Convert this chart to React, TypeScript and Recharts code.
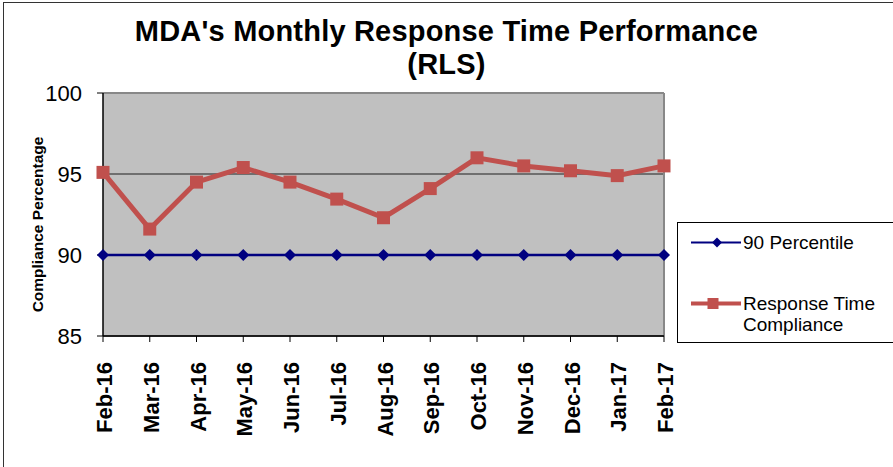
import { CartesianGrid, Legend, Line, LineChart, ReferenceLine, XAxis, YAxis } from "recharts";

const months = ["Feb-16", "Mar-16", "Apr-16", "May-16", "Jun-16", "Jul-16", "Aug-16", "Sep-16", "Oct-16", "Nov-16", "Dec-16", "Jan-17", "Feb-17"];
const percentile90 = [90, 90, 90, 90, 90, 90, 90, 90, 90, 90, 90, 90, 90];
const compliance = [95.1, 91.6, 94.5, 95.4, 94.5, 93.45, 92.3, 94.1, 96.0, 95.5, 95.2, 94.9, 95.5];
const yTicks = [85, 90, 95, 100];

const FONT = "'Liberation Sans', Arial, sans-serif";
const NAVY = "#000080";
const RED = "#C0504D";

const chartData = months.map((m, i) => ({ month: m, p90: percentile90[i], rtc: compliance[i] }));

function Diamond({ cx, cy, fill, size = 6 }: { cx?: number; cy?: number; fill: string; size?: number }) {
  if (cx == null || cy == null) return null;
  return <polygon points={`${cx},${cy - size} ${cx + size},${cy} ${cx},${cy + size} ${cx - size},${cy}`} fill={fill} />;
}

function Square({ cx, cy, fill, size = 13 }: { cx?: number; cy?: number; fill: string; size?: number }) {
  if (cx == null || cy == null) return null;
  return <rect x={cx - size / 2} y={cy - size / 2} width={size} height={size} fill={fill} />;
}

function MonthTick({ x, y, payload }: any) {
  return (
    <text
      x={x}
      y={y}
      transform={`rotate(-90, ${x}, ${y})`}
      dx={-18}
      dy={9}
      textAnchor="end"
      fontFamily={FONT}
      fontWeight="bold"
      fontSize={22}
      fill="#000"
    >
      {payload.value}
    </text>
  );
}

function LegendBox() {
  const row = (marker: React.ReactNode, color: string, width: number, lines: string[]) => (
    <div style={{ display: "flex", alignItems: "flex-start" }}>
      <svg width={54} height={21} style={{ flexShrink: 0 }}>
        <line x1={2} y1={10.5} x2={52} y2={10.5} stroke={color} strokeWidth={width} />
        {marker}
      </svg>
      <div style={{ lineHeight: "21px" }}>
        {lines.map((l) => (
          <div key={l}>{l}</div>
        ))}
      </div>
    </div>
  );
  return (
    <div
      style={{
        border: "1px solid #000",
        background: "#fff",
        boxSizing: "border-box",
        width: 230,
        height: 121,
        padding: "9px 0 0 11px",
        fontFamily: FONT,
        fontSize: 19,
        color: "#000",
        display: "flex",
        flexDirection: "column",
        gap: 40,
      }}
    >
      {row(<Diamond cx={28} cy={10.5} fill={NAVY} size={5} />, NAVY, 2, ["90 Percentile"])}
      {row(<Square cx={24} cy={10.5} fill={RED} size={11} />, RED, 4, ["Response Time", "Compliance"])}
    </div>
  );
}

export default function App() {
  return (
    <div style={{ position: "absolute", left: 0, top: 0, width: 893, height: 467, overflow: "hidden", background: "#fff" }}>
      <div
        style={{
          position: "absolute",
          left: 3,
          top: 2,
          width: 900,
          height: 480,
          borderLeft: "1px solid #333",
          borderTop: "1px solid #333",
        }}
      />
      <div
        style={{
          position: "absolute",
          left: 0,
          top: 15,
          width: 893,
          textAlign: "center",
          fontFamily: FONT,
          fontWeight: "bold",
          fontSize: 29,
          lineHeight: "33px",
          color: "#000",
          letterSpacing: 0.2,
        }}
      >
        MDA's Monthly Response Time Performance
        <br />
        (RLS)
      </div>
      <div style={{ position: "absolute", left: 0, top: 0 }}>
        <LineChart width={893} height={467} data={chartData} margin={{ top: 93, right: 229, bottom: 0, left: 0 }}>
          <CartesianGrid vertical={false} fill="#C0C0C0" stroke="#555" strokeWidth={1.5} />
          <XAxis
            dataKey="month"
            interval={0}
            tick={<MonthTick />}
            tickSize={6}
            axisLine={{ stroke: "#000", strokeWidth: 1.5 }}
            tickLine={{ stroke: "#000" }}
            height={131}
          />
          <YAxis
            domain={[85, 100]}
            ticks={yTicks}
            width={103}
            tickSize={6}
            tickMargin={15}
            axisLine={{ stroke: "#000", strokeWidth: 1.5 }}
            tickLine={{ stroke: "#000" }}
            tick={{ fontFamily: FONT, fontSize: 22, fill: "#000" }}
            label={(props: any) => {
              const vb = props.viewBox || {};
              const cy = (vb.y ?? 93) + (vb.height ?? 243) / 2 + 10;
              return (
                <text
                  x={39}
                  y={cy}
                  transform={`rotate(-90, 39, ${cy})`}
                  textAnchor="middle"
                  dominantBaseline="middle"
                  fontFamily={FONT}
                  fontWeight="bold"
                  fontSize={15.5}
                  fill="#000"
                >
                  Compliance Percentage
                </text>
              );
            }}
          />
          <ReferenceLine y={100} stroke="#888" strokeWidth={2} />
          <ReferenceLine x="Feb-17" stroke="#888" strokeWidth={2} />
          <Legend
            layout="vertical"
            align="center"
            verticalAlign="middle"
            content={() => <LegendBox />}
            wrapperStyle={{ position: "absolute", left: 677, top: 222, width: 230, height: 121 }}
          />
          <Line
            dataKey="p90"
            name="90 Percentile"
            stroke={NAVY}
            strokeWidth={2.5}
            dot={(p: any) => <Diamond key={`d${p.index}`} cx={p.cx} cy={p.cy} fill={NAVY} />}
            activeDot={false}
            isAnimationActive={false}
          />
          <Line
            dataKey="rtc"
            name="Response Time Compliance"
            stroke={RED}
            strokeWidth={5}
            dot={(p: any) => <Square key={`s${p.index}`} cx={p.cx} cy={p.cy} fill={RED} />}
            activeDot={false}
            isAnimationActive={false}
          />
        </LineChart>
      </div>
    </div>
  );
}
